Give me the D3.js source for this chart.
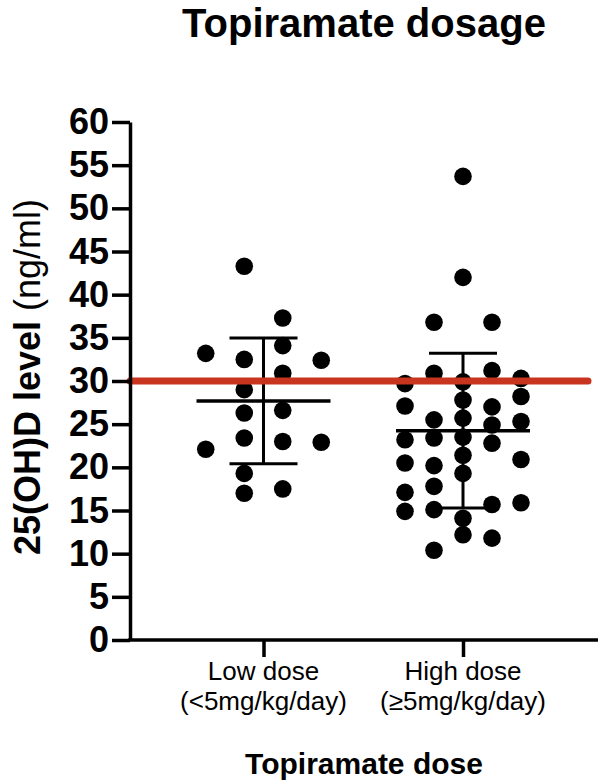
<!DOCTYPE html>
<html>
<head>
<meta charset="utf-8">
<script src="https://cdn.jsdelivr.net/npm/d3@7"></script>
<style>
  html, body { margin: 0; padding: 0; background: #fff; }
  svg { display: block; }
  text { font-family: "Liberation Sans", Arial, Helvetica, sans-serif; fill: #000; }
</style>
</head>
<body>
<svg id="chart" width="598" height="781"></svg>
<script>
// ---- Data ----
const categories = ["Low dose", "High dose"];
const categoryLine2 = ["(<5mg/kg/day)", "(\u22655mg/kg/day)"];

// 25(OH)D level (ng/ml) values per group, with their swarm column slot
const lowValues = [43.3, 37.3, 33.2, 32.5, 34.1, 32.4, 30.9, 29.0, 26.3, 26.6, 22.1, 23.4, 23.0, 22.9, 19.3, 17.0, 17.5];
const lowSlots  = [-0.5, 0.5, -1.5, -0.5, 0.5, 1.5, 0.5, -0.5, -0.5, 0.5, -1.5, -0.5, 0.5, 1.5, -0.5, -0.5, 0.5];

const highValues = [53.7, 42.0, 36.8, 36.8, 29.7, 30.9, 29.9, 31.2, 30.3, 27.1, 27.8, 27.0, 28.2, 25.5, 25.7, 24.9, 25.3,
                    23.2, 23.4, 23.5, 22.8, 21.4, 20.5, 20.2, 20.9, 19.3, 17.1, 17.8, 14.9, 15.1, 15.7, 15.9, 14.1, 12.2, 11.8, 10.4];
const highSlots  = [0, 0, -1, 1, -2, -1, 0, 1, 2, -2, 0, 1, 2, -1, 0, 1, 2,
                    -2, -1, 0, 1, 0, -2, -1, 2, 0, -2, -1, -2, -1, 1, 2, 0, 0, 1, -1];

const yTicks = [0, 5, 10, 15, 20, 25, 30, 35, 40, 45, 50, 55, 60];
const thresholdValue = 30;

const titleText = "Topiramate dosage";
const xTitle = "Topiramate dose";
const yTitleBold = "25(OH)D level";
const yTitleRegular = " (ng/ml)";

// ---- Layout ----
const svg = d3.select("#chart");
const axisX = 130, plotRight = 598;
const y = d3.scaleLinear().domain([0, 60]).range([640, 122]);
const x = d3.scalePoint().domain(categories).range([263.5, 463]);
const slotSpacing = { "Low dose": 38.5, "High dose": 29 };
const groups = [
  { cat: categories[0], values: lowValues, slots: lowSlots },
  { cat: categories[1], values: highValues, slots: highSlots }
];

// Title
svg.append("text")
  .attr("x", 364).attr("y", 37)
  .attr("text-anchor", "middle")
  .attr("font-size", 40).attr("font-weight", "bold")
  .text(titleText);

// Points
groups.forEach(g => {
  svg.append("g").selectAll("circle")
    .data(g.values.map((v, i) => ({ v, s: g.slots[i] })))
    .join("circle")
    .attr("cx", d => x(g.cat) + d.s * slotSpacing[g.cat])
    .attr("cy", d => y(d.v))
    .attr("r", 8.8)
    .attr("fill", "#000");
});

// Mean and SD
groups.forEach(g => {
  const m = d3.mean(g.values);
  const sd = d3.deviation(g.values);
  const cx = x(g.cat);
  const eg = svg.append("g").attr("stroke", "#000").attr("fill", "none");
  eg.append("line").attr("x1", cx).attr("x2", cx).attr("y1", y(m + sd)).attr("y2", y(m - sd)).attr("stroke-width", 3);
  eg.append("line").attr("x1", cx - 34).attr("x2", cx + 34).attr("y1", y(m + sd)).attr("y2", y(m + sd)).attr("stroke-width", 3);
  eg.append("line").attr("x1", cx - 34).attr("x2", cx + 34).attr("y1", y(m - sd)).attr("y2", y(m - sd)).attr("stroke-width", 3);
  eg.append("line").attr("x1", cx - 67).attr("x2", cx + 67).attr("y1", y(m)).attr("y2", y(m)).attr("stroke-width", 3.5);
});

// Threshold line
svg.append("line")
  .attr("x1", axisX).attr("x2", 588)
  .attr("y1", y(thresholdValue)).attr("y2", y(thresholdValue))
  .attr("stroke", "#c9341f").attr("stroke-width", 7)
  .attr("stroke-linecap", "round");

// Y axis
const yAxis = d3.axisLeft(y).tickValues(yTicks).tickSize(18).tickSizeOuter(0).tickPadding(3);
const yg = svg.append("g").attr("transform", `translate(${axisX},0)`).call(yAxis);
yg.select(".domain").attr("stroke", "#000").attr("stroke-width", 3.5);
yg.selectAll(".tick line").attr("stroke", "#000").attr("stroke-width", 3.5);
yg.selectAll(".tick text")
  .attr("font-size", 36).attr("font-weight", "bold")
  .attr("font-family", "'Liberation Sans', Arial, sans-serif")
  .attr("fill", "#000");

// X axis
svg.append("line")
  .attr("x1", axisX - 1.75).attr("x2", plotRight)
  .attr("y1", y(0)).attr("y2", y(0))
  .attr("stroke", "#000").attr("stroke-width", 3.5);
const xAxis = d3.axisBottom(x).tickSize(17).tickSizeOuter(0).tickFormat("");
const xg = svg.append("g").attr("transform", `translate(0,${y(0)})`).call(xAxis);
xg.select(".domain").remove();
xg.selectAll(".tick line").attr("stroke", "#000").attr("stroke-width", 3.5);

categories.forEach((c, i) => {
  svg.append("text")
    .attr("x", x(c)).attr("y", 680)
    .attr("text-anchor", "middle")
    .attr("font-size", 26)
    .text(c);
  svg.append("text")
    .attr("x", x(c)).attr("y", 709.5)
    .attr("text-anchor", "middle")
    .attr("font-size", 26)
    .text(categoryLine2[i]);
});

// X title
svg.append("text")
  .attr("x", 364).attr("y", 774)
  .attr("text-anchor", "middle")
  .attr("font-size", 30).attr("font-weight", "bold")
  .text(xTitle);

// Y title
const yt = svg.append("text")
  .attr("transform", "translate(40,377) rotate(-90)")
  .attr("text-anchor", "middle")
  .attr("font-size", 36);
yt.append("tspan").attr("font-weight", "bold").text(yTitleBold);
yt.append("tspan").attr("font-weight", "normal").text(yTitleRegular);
</script>
</body>
</html>
